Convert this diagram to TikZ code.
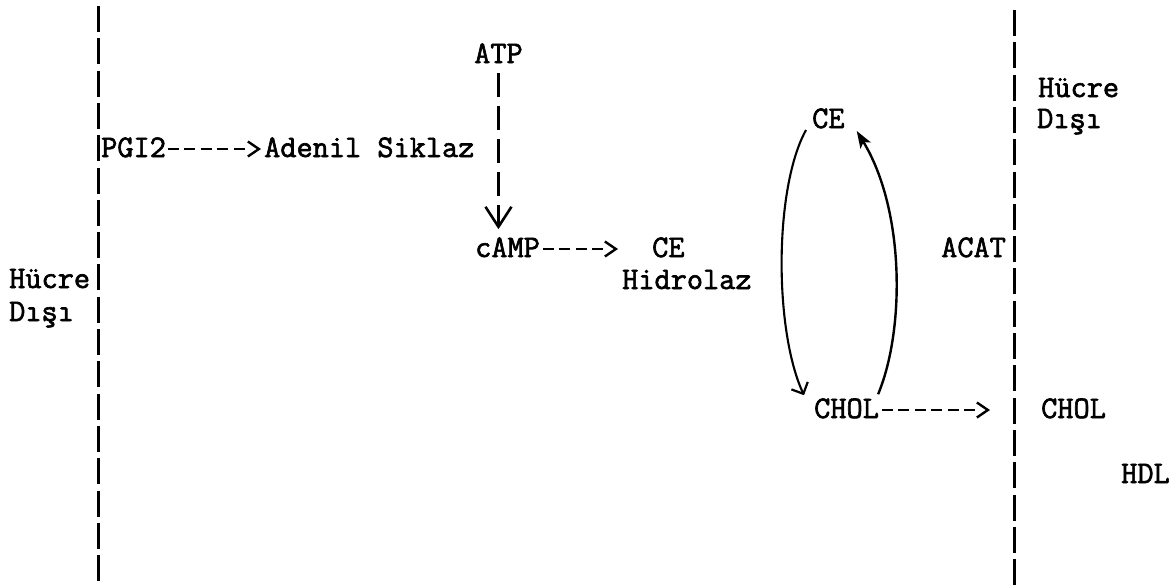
\documentclass[tikz,border=0pt]{standalone}
\usepackage{fontspec}
\setmonofont{Latin Modern Mono}[FakeBold=2]
\usetikzlibrary{arrows.meta}

\begin{document}
\begin{tikzpicture}[x=1pt,y=-1pt,
  lbl/.style={inner sep=0pt, anchor=base west,
    font=\ttfamily\fontsize{31.4pt}{32pt}\selectfont},
  wall/.style={line width=3pt, dash pattern=on 26pt off 6.3pt},
  chevron/.style={-{Straight Barb[length=11pt,width=15pt,line width=2.4pt]}},
  hyphens/.style={line width=2.5pt, chevron},
  four/.style={hyphens, dash pattern=on 11pt off 5.5pt on 11pt off 5.5pt on 11pt off 5.5pt on 11pt off 60pt},
  five/.style={hyphens, dash pattern=on 11pt off 5.5pt on 11pt off 5.5pt on 11pt off 5.5pt on 11pt off 5.5pt on 11pt off 60pt},
  six/.style={hyphens, dash pattern=on 11pt off 5.5pt on 11pt off 5.5pt on 11pt off 5.5pt on 11pt off 5.5pt on 11pt off 5.5pt on 11pt off 60pt},
  stem/.style={line width=3pt, dash pattern=on 24pt off 9pt,
    -{Straight Barb[length=20pt,width=26pt,line width=2.6pt]}},
  cycle/.style={line width=2.1pt}
]
\useasboundingbox (0,0) rectangle (1174,584);

% membrane walls
\coordinate (wl top) at (98,6);
\coordinate (wl bot) at (98,592);
\coordinate (wr top) at (1014,10);
\coordinate (wr bot) at (1014,592);
\draw[wall] (wl top) -- (wl bot);
\draw[wall] (wr top) -- (wr bot);

% labels
\node[lbl] (hucL) at (9,288)  {Hücre};
\node[lbl] (disL) at (9,321)  {Dışı};
\node[lbl] (hucR) at (1038,97) {Hücre};
\node[lbl] (disR) at (1037,128) {Dışı};

\node[lbl] (atp)   at (474,63)  {ATP};
\node[lbl] (pgi)   at (101,157) {PGI2};
\node[lbl] (ade)   at (264,157) {Adenil Siklaz};
\node[lbl] (camp)  at (475,257) {cAMP};
\node[lbl] (ceh)   at (652,257) {CE};
\node[lbl] (hidro) at (622,289) {Hidrolaz};
\node[lbl] (ceup)  at (812,128) {CE};
\node[lbl] (acat)  at (941,257) {ACAT};
\node[lbl] (cholL) at (814,418) {CHOL};
\node[lbl] (cholR) at (1041,418) {CHOL};
\node[lbl] (hdl)   at (1121,483) {HDL};

% typed dashed arrows
\draw[five] ([xshift=1.7pt,yshift=8pt]pgi.base east) -- ([xshift=-3pt,yshift=8pt]ade.base west);
\draw[four] ([xshift=2.7pt,yshift=8pt]camp.base east) -- ([xshift=-34pt,yshift=8pt]ceh.base west);
\draw[six]  ([xshift=2.7pt,yshift=8pt]cholL.base east) -- ([xshift=-51pt,yshift=8pt]cholR.base west);

% ATP -> cAMP
\draw[stem] ([yshift=-10pt]atp.south) -- ([yshift=8pt]atp.south |- camp.north);

% CE <-> CHOL cycle
\draw[cycle, -{Straight Barb[length=9pt,width=18pt,line width=2.2pt]}]
  ([xshift=-6pt,yshift=-2pt]ceup.base west)
  .. controls (774,188) and (774,330) ..
  ([xshift=-10pt,yshift=3pt]cholL.north west);
\draw[cycle, line width=2.4pt, -{Stealth[length=17pt,width=12pt,inset=4pt]}]
  ([xshift=-1pt,yshift=4pt]cholL.north east)
  .. controls (905,330) and (905,210) ..
  ([xshift=12pt,yshift=-3pt]ceup.base east);
\end{tikzpicture}
\end{document}
